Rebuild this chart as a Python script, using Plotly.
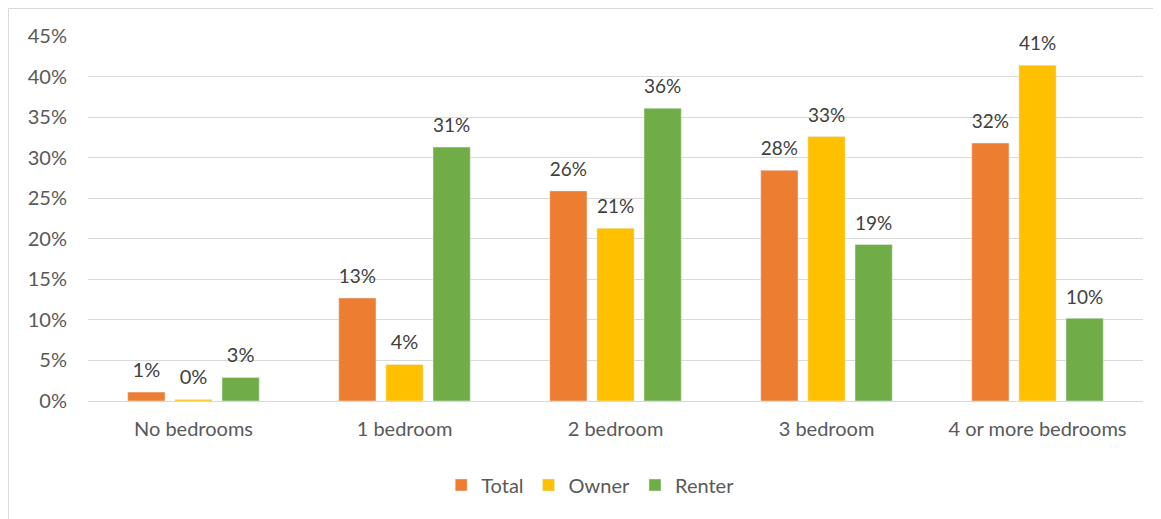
import plotly.graph_objects as go

categories = ["No bedrooms", "1 bedroom", "2 bedroom", "3 bedroom", "4 or more bedrooms"]
total = [1.1, 12.7, 25.9, 28.45, 31.8]
owner = [0.2, 4.5, 21.3, 32.6, 41.4]
renter = [2.9, 31.3, 36.1, 19.3, 10.2]
y_ticks = [0, 5, 10, 15, 20, 25, 30, 35, 40, 45]

series = [("Total", total, "#ED7D31"), ("Owner", owner, "#FFC000"), ("Renter", renter, "#70AD47")]

fig = go.Figure()
for name, vals, color in series:
    fig.add_trace(go.Bar(
        x=categories, y=vals, name=name, marker_color=color,
        text=[f"{round(v):.0f}%" for v in vals],
        texttemplate="<span style='font-size:20px'>%{text}</span><br> ",
        textposition="outside",
        textfont=dict(size=8, color="#404040"), cliponaxis=False,
    ))

font_family = "Lato, 'Open Sans', sans-serif"
fig.update_layout(
    width=1161, height=519,
    paper_bgcolor="white", plot_bgcolor="white",
    barmode="group", bargap=0.33, bargroupgap=0.21,
    margin=dict(l=80, r=26, t=28, b=126),
    font=dict(family=font_family, size=20, color="#595959"),
    uniformtext=dict(mode=False),
    xaxis=dict(showgrid=False, showline=True, linecolor="#d9d9d9", linewidth=1,
               ticks="", ticklabelstandoff=10, tickfont=dict(size=20, color="#595959")),
    yaxis=dict(range=[0, 45], tickvals=y_ticks, ticktext=[f"{t}%" for t in y_ticks],
               showgrid=True, gridcolor="#d9d9d9", gridwidth=1, zeroline=False,
               showline=False, ticks="", ticklabelstandoff=20,
               tickfont=dict(size=20, color="#595959")),
    legend=dict(orientation="h", x=0.476, xanchor="center", y=-0.23, yanchor="middle",
                font=dict(size=20, color="#595959"), traceorder="normal"),
    shapes=[dict(type="rect", xref="paper", yref="paper", x0=-0.0754, x1=1.1,
                 y0=-0.4, y1=1.0753, line=dict(color="#d9d9d9", width=1), layer="below")],
)

fig.write_html("out.html")
